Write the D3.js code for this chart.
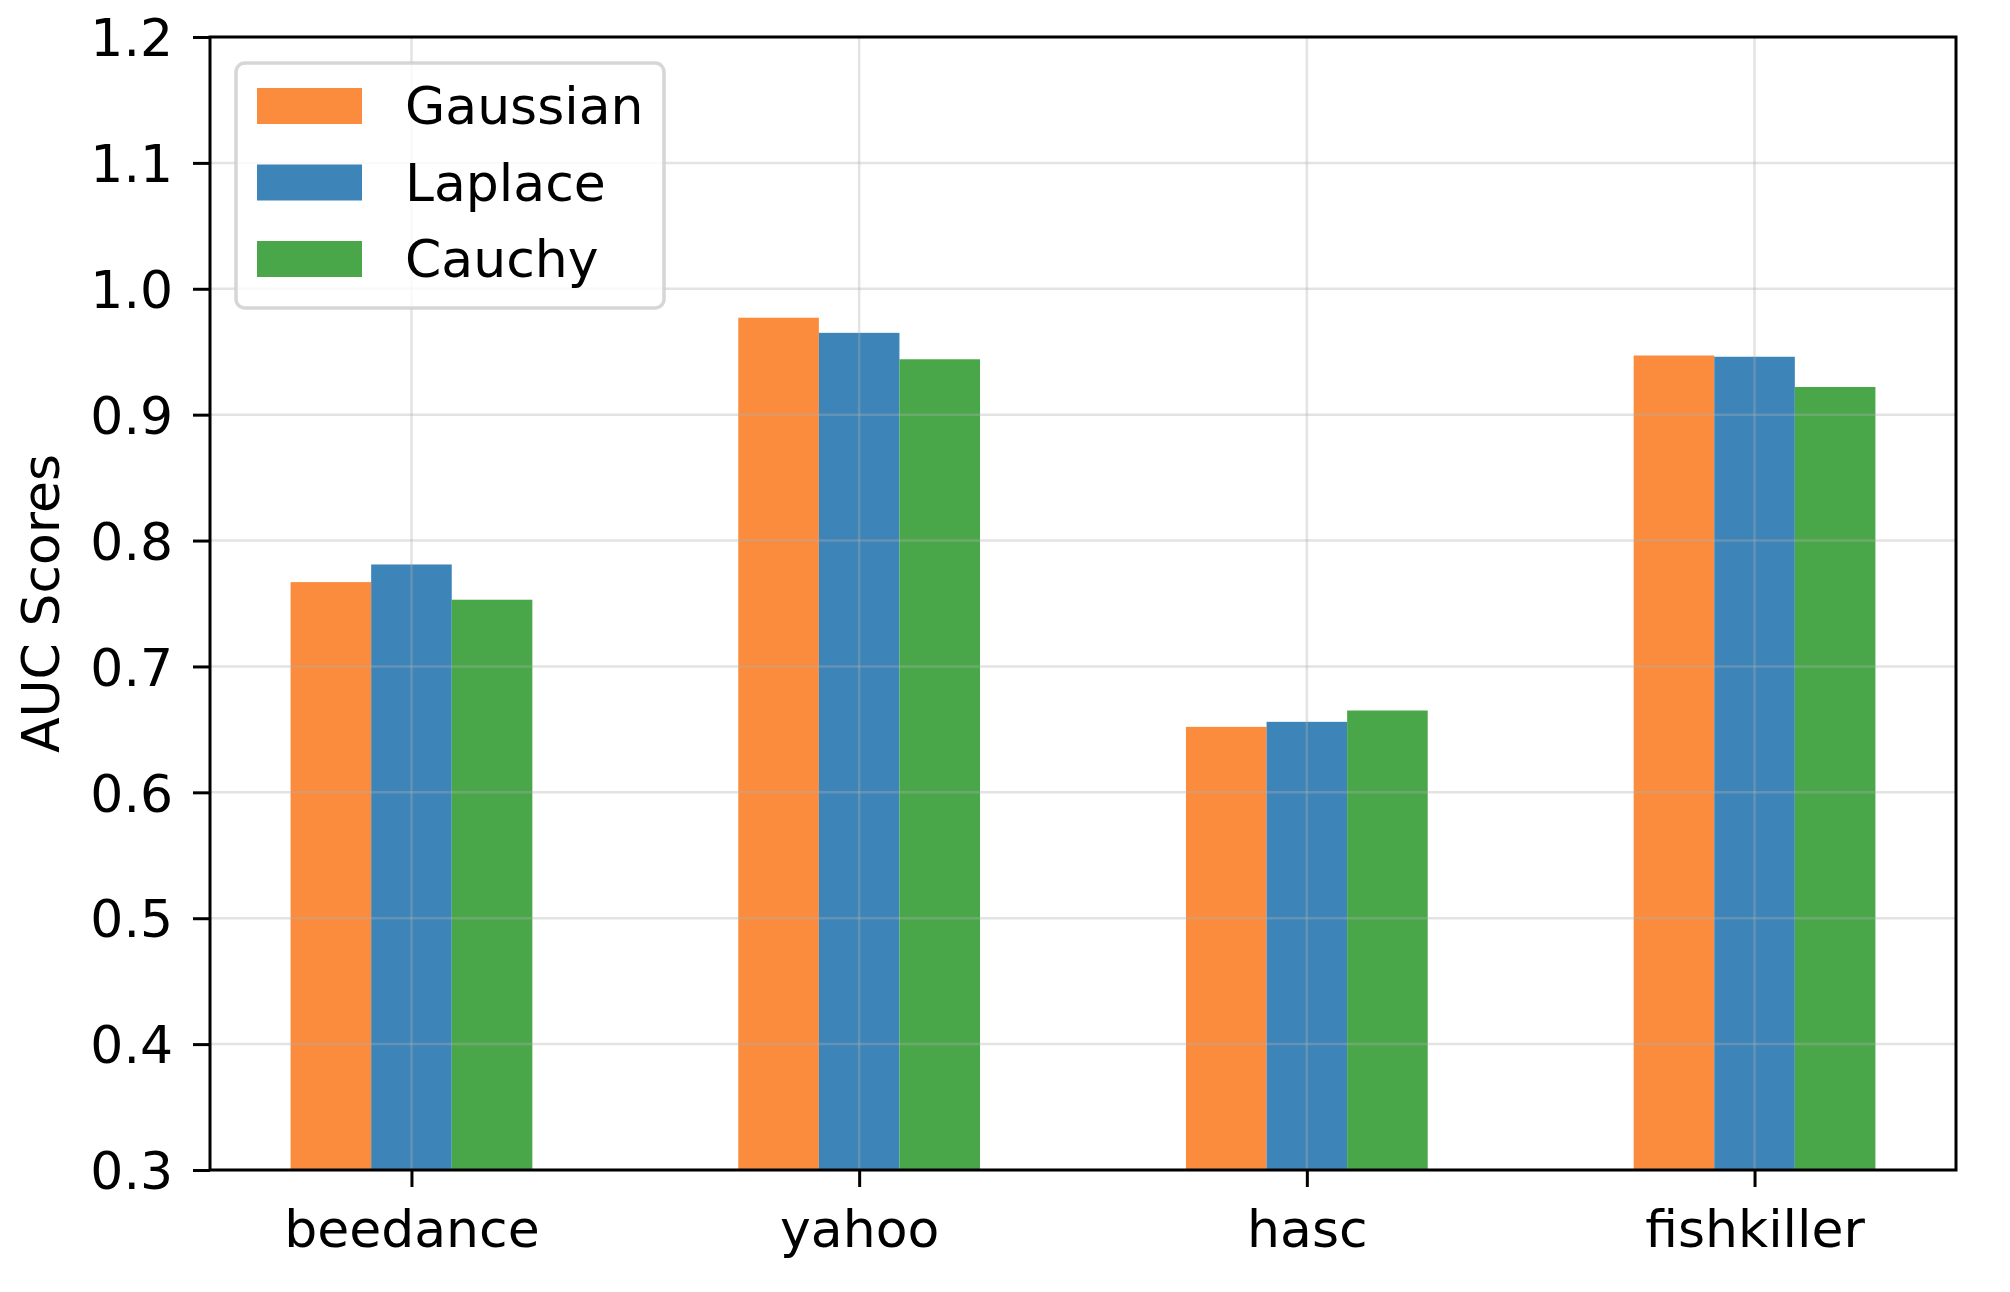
<!DOCTYPE html>
<html>
<head>
<meta charset="utf-8">
<script src="https://cdn.jsdelivr.net/npm/d3@7"></script>
<style>
  html, body { margin: 0; padding: 0; background: #fff; }
  svg { display: block; }
  text { font-family: "DejaVu Sans", sans-serif; fill: #000; }
</style>
</head>
<body>
<svg id="chart" width="2010" height="1292"></svg>
<script>
const categories = ["beedance", "yahoo", "hasc", "fishkiller"];
const seriesNames = ["Gaussian", "Laplace", "Cauchy"];
const gaussian = [0.767, 0.977, 0.652, 0.947];
const laplace  = [0.781, 0.965, 0.656, 0.946];
const cauchy   = [0.753, 0.944, 0.665, 0.922];
const seriesColors = ["#fb8c3e", "#3d84b8", "#49a74a"];
const yTicks = [0.3, 0.4, 0.5, 0.6, 0.7, 0.8, 0.9, 1.0, 1.1, 1.2];
const yLabel = "AUC Scores";

const series = [gaussian, laplace, cauchy];

const svg = d3.select("#chart");
const L = 210, R = 1956, T = 37, B = 1170;
const fs = 52;

const x = d3.scaleLinear().domain([-0.45, 3.45]).range([L, R]);
const y = d3.scaleLinear().domain([0.3, 1.2]).range([B, T]);
const barW = 0.18;

// bars
series.forEach((vals, si) => {
  svg.append("g").selectAll("rect").data(vals).join("rect")
    .attr("x", (d, i) => x(i + (si - 1.5) * barW))
    .attr("width", x(barW) - x(0))
    .attr("y", d => y(d))
    .attr("height", d => y(0.3) - y(d))
    .attr("fill", seriesColors[si]);
});

// grid on top
const grid = svg.append("g").attr("stroke", "#b0b0b0").attr("stroke-opacity", 0.35).attr("stroke-width", 2.5);
yTicks.forEach(t => {
  grid.append("line").attr("x1", L).attr("x2", R).attr("y1", y(t)).attr("y2", y(t));
});
categories.forEach((c, i) => {
  grid.append("line").attr("x1", x(i)).attr("x2", x(i)).attr("y1", T).attr("y2", B);
});

// axes
const yAxis = d3.axisLeft(y).tickValues(yTicks).tickFormat(d3.format(".1f")).tickSize(17).tickPadding(20);
const gy = svg.append("g").attr("transform", `translate(${L},0)`).call(yAxis);
const xAxis = d3.axisBottom(x).tickValues(d3.range(categories.length)).tickFormat(i => categories[i]).tickSize(17).tickPadding(20);
const gx = svg.append("g").attr("transform", `translate(0,${B})`).call(xAxis);
[gy, gx].forEach(g => {
  g.select(".domain").remove();
  g.selectAll(".tick line").attr("stroke", "#000").attr("stroke-width", 3);
  g.selectAll(".tick text").attr("font-size", fs).attr("font-family", "DejaVu Sans");
});
gy.selectAll(".tick text").attr("dy", "0.36em");
gx.selectAll(".tick text").attr("dy", "0.76em");

// frame
svg.append("rect").attr("x", L).attr("y", T).attr("width", R - L).attr("height", B - T)
  .attr("fill", "none").attr("stroke", "#000").attr("stroke-width", 3);

// y label
svg.append("text").attr("transform", `translate(59,${(T + B) / 2}) rotate(-90)`)
  .attr("text-anchor", "middle").attr("font-size", fs).text(yLabel);

// legend
const lg = svg.append("g");
lg.append("rect").attr("x", 236).attr("y", 63).attr("width", 428).attr("height", 245).attr("rx", 9)
  .attr("fill", "#fff").attr("fill-opacity", 0.8).attr("stroke", "#cccccc").attr("stroke-opacity", 0.8).attr("stroke-width", 3.5);
seriesNames.forEach((n, i) => {
  const cy = 106 + i * 76.5;
  lg.append("rect").attr("x", 257).attr("y", cy - 18).attr("width", 105).attr("height", 36).attr("fill", seriesColors[i]);
  lg.append("text").attr("x", 405).attr("y", cy + 18).attr("font-size", fs).text(n);
});
</script>
</body>
</html>
